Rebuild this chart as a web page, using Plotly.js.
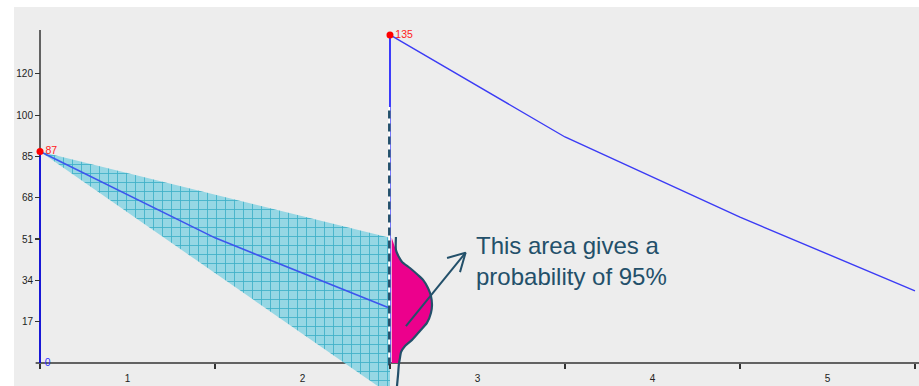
<!DOCTYPE html>
<html>
<head>
<meta charset="utf-8">
<script src="https://cdn.plot.ly/plotly-3.0.1.min.js"></script>
<style>html,body{margin:0;padding:0;background:#fff;}#chart{width:919px;height:386px;}</style>
</head>
<body>
<div id="chart"></div>
<script>
// ---- data ----
const bandEdges = [0, 1, 2, 3, 4, 5];
const bandCenters = [0.5, 1.5, 2.5, 3.5, 4.5];
const bandLabels = ['1', '2', '3', '4', '5'];
const yTickVals = [17, 34, 51, 68, 85, 102, 119];
const yTickText = ['17', '34', '51', '68', '85', '100', '120'];

const histX = [0, 1, 2];
const histY = [87, 51.5, 22.5];
const forecastX = [2, 3, 4, 5];
const forecastY = [135, 93, 60, 29.7];

const coneX = [0, 2, 2];
const coneY = [87, 51.5, -13];

const distY = [51.85, 46.5, 43.6, 41.6, 39.1, 36.2, 34.2, 30.9, 27.6, 23.9, 20.6, 16.5, 13.2, 9.5, 7.0, 4.5, 2.1, -0.4, -4.9, -9.5];
const distX = [2.034, 2.034, 2.051, 2.069, 2.114, 2.160, 2.189, 2.217, 2.234, 2.240, 2.234, 2.211, 2.171, 2.126, 2.086, 2.063, 2.057, 2.051, 2.046, 2.040];

const startLabelX = [0], startLabelY = [87], startLabelText = ['87'];
const peakLabelX = [2], peakLabelY = [135], peakLabelText = ['135'];
const zeroLabelX = [0], zeroLabelY = [0], zeroLabelText = ['0'];

const arrowX = [2.091, 2.432, null, 2.326, 2.432, 2.400];
const arrowY = [15.2, 45.4, null, 43.2, 45.4, 37.4];
const noteText = 'This area gives a<br>probability of 95%';
const noteX = 2.478, noteY = 42.0;

const dashTop = 105.3, dashBottom = -1;
const yAxisTop = 137;
const xRange = [-0.1486, 5.023];
const yRange = [-9.47, 146.5];

// ---- build ----
const ink = '#23506a';
const fillX = [2.01, 2.01], fillY = [0, 51.5];
for (let i = 0; i < distY.length; i++) {
  if (distY[i] >= 0 && distY[i] <= 51.5) { fillX.push(distX[i]); fillY.push(distY[i]); }
}
fillX.push(distX[distY.findIndex(v => v < 0)]); fillY.push(0);

const labelFont = 'Liberation Sans, Arial, sans-serif';
const traces = [
  { // cone
    x: coneX, y: coneY, mode: 'lines', fill: 'toself', line: {width: 0, color: 'rgba(0,0,0,0)'},
    fillcolor: '#8fd4e2',
    fillpattern: {shape: '+', bgcolor: '#96d7e4', fgcolor: '#3fb0c8', size: 9, solidity: 0.18},
    hoverinfo: 'skip'
  },
  { x: [histX[0], histX[0]], y: [0, histY[0]], mode: 'lines', line: {color: '#0000ff', width: 1.5} },
  { x: [forecastX[0], forecastX[0]], y: [0, forecastY[0]], mode: 'lines', line: {color: '#0000ff', width: 1.5} },
  { x: histX, y: histY, mode: 'lines', line: {color: '#3d55ee', width: 1.6} },
  { x: forecastX, y: forecastY, mode: 'lines', line: {color: '#3b3bf5', width: 1.4} },
  { x: [forecastX[0] - 0.004, forecastX[0] - 0.004], y: [dashBottom, dashTop], mode: 'lines', line: {color: '#ffffff', width: 2} },
  { x: [forecastX[0] - 0.004, forecastX[0] - 0.004], y: [dashBottom, dashTop], mode: 'lines', line: {color: ink, width: 2.5, dash: '8px,5px'} },
  { x: fillX, y: fillY, mode: 'lines', fill: 'toself', fillcolor: '#ec008c', line: {width: 0, color: 'rgba(0,0,0,0)'} },
  { x: distX, y: distY, mode: 'lines', line: {color: ink, width: 2.2, shape: 'spline', smoothing: 0.6} },
  { x: arrowX, y: arrowY, mode: 'lines', line: {color: ink, width: 2} },
  {
    x: startLabelX, y: startLabelY, text: startLabelText, mode: 'markers+text', textposition: 'middle right',
    marker: {color: '#ff0000', size: 7}, textfont: {color: '#ff2020', size: 10.5, family: labelFont}, cliponaxis: false
  },
  {
    x: peakLabelX, y: peakLabelY, text: peakLabelText, mode: 'markers+text', textposition: 'middle right',
    marker: {color: '#ff0000', size: 7}, textfont: {color: '#ff2020', size: 10.5, family: labelFont}, cliponaxis: false
  },
  {
    x: zeroLabelX, y: zeroLabelY, text: zeroLabelText, mode: 'markers+text', textposition: 'middle right',
    marker: {color: 'rgba(0,0,0,0)', size: 6},
    textfont: {color: '#3030ff', size: 10.5, family: labelFont}, cliponaxis: false
  }
];

const axisColor = '#333333';
const tickFont = {family: 'Liberation Sans Narrow, Liberation Sans, sans-serif', size: 10, color: '#222'};
const layout = {
  width: 919, height: 386,
  margin: {l: 14, r: 0, t: 7, b: 0, pad: 0},
  paper_bgcolor: '#ffffff', plot_bgcolor: '#ededed',
  showlegend: false,
  hovermode: false,
  xaxis: {
    range: xRange, anchor: 'free', position: (0 - yRange[0]) / (yRange[1] - yRange[0]),
    showgrid: false, zeroline: false, showline: false,
    tickmode: 'array', tickvals: bandCenters, ticktext: bandLabels,
    ticks: 'outside', ticklen: 6, tickcolor: 'rgba(0,0,0,0)',
    tickfont: tickFont,
    minor: {tickmode: 'array', tickvals: bandEdges, ticks: 'outside', ticklen: 5, tickwidth: 1.5, tickcolor: axisColor, showgrid: false}
  },
  yaxis: {
    range: yRange, anchor: 'free', position: (0 - xRange[0]) / (xRange[1] - xRange[0]),
    showgrid: false, zeroline: false, showline: false,
    tickmode: 'array', tickvals: yTickVals, ticktext: yTickText,
    ticks: 'outside', ticklen: 5, tickwidth: 1.2, tickcolor: axisColor,
    tickfont: tickFont
  },
  shapes: [
    {type: 'line', xref: 'x', yref: 'y', x0: -0.025, x1: xRange[1], y0: 0, y1: 0, line: {color: axisColor, width: 1.5}, layer: 'below'},
    {type: 'line', xref: 'x', yref: 'y', x0: 0, x1: 0, y0: 0, y1: yAxisTop, line: {color: axisColor, width: 1.5}, layer: 'below'}
  ],
  annotations: [
    {x: noteX, y: noteY, xref: 'x', yref: 'y', text: noteText, showarrow: false, xanchor: 'left', yanchor: 'middle', align: 'left',
     font: {family: 'Liberation Sans, Arial, sans-serif', size: 24, color: ink}}
  ]
};

Plotly.newPlot('chart', traces, layout, {staticPlot: true, displayModeBar: false});
</script>
</body>
</html>
